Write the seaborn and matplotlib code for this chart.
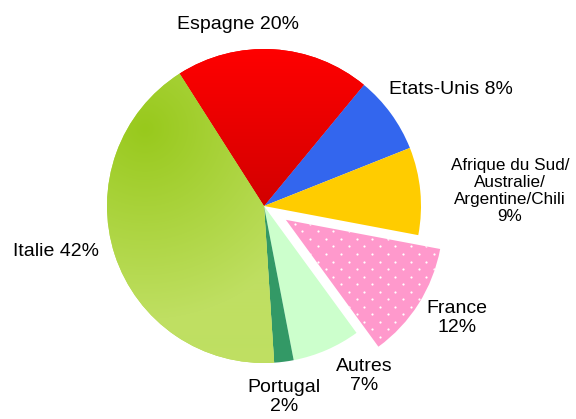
import seaborn as sns
import matplotlib.pyplot as plt
import numpy as np
from matplotlib.colors import to_rgb

# Répartition des surfaces (pie chart with France exploded)

countries = ["Espagne", "Etats-Unis", "Afrique du Sud/\nAustralie/\nArgentine/Chili",
             "France", "Autres", "Portugal", "Italie"]
shares = [20, 8, 9, 12, 7, 2, 42]
colors = ["#f20000", "#3366ee", "#ffcc00", "#ff99cc", "#ccffcc", "#339966", "#b5d94e"]
explode_frac = [0, 0, 0, 0.165, 0, 0, 0]

sns.set_theme(style="white")
plt.rcParams["font.family"] = ["Liberation Sans", "DejaVu Sans"]

W, H = 576, 419
cx, cy, r = 264, 213, 157

fig = plt.figure(figsize=(W / 100, H / 100), dpi=100)
ax = fig.add_axes([0, 0, 1, 1])

wedges, _ = ax.pie(
    shares,
    colors=colors,
    explode=[e * r for e in explode_frac],
    startangle=122.5,
    counterclock=False,
    center=(cx, cy),
    radius=r,
    frame=True,
    wedgeprops=dict(linewidth=0),
)
ax.set_xlim(0, W)
ax.set_ylim(0, H)
ax.axis("off")

# shading for Espagne and Italie
xx, yy = np.meshgrid(np.arange(W) + 0.5, np.arange(H) + 0.5)


def gradient(t, c0, c1):
    t = np.clip(t, 0, 1)[..., None]
    return (1 - t) * np.array(to_rgb(c0)) + t * np.array(to_rgb(c1))


esp = gradient((cy + r - yy) / r, "#ff0000", "#d20000")
ita = gradient(np.hypot(xx - 145, yy - 290) / 190, "#98c91c", "#bfdf62")
for name, img in (("Espagne", esp), ("Italie", ita)):
    w = wedges[countries.index(name)]
    im = ax.imshow(img, origin="lower", extent=(0, W, 0, H), zorder=w.get_zorder() + 0.1,
                   interpolation="bilinear")
    im.set_clip_path(w)
ax.set_xlim(0, W)
ax.set_ylim(0, H)

# dotted texture on France
france = wedges[countries.index("France")]
gx, gy = np.meshgrid(np.arange(0, W, 15.5), np.arange(0, H, 7.5))
gx = gx + (np.arange(gy.shape[0])[:, None] % 2) * 7.75
dots = ax.scatter(gx.ravel(), gy.ravel(), s=2.5, color="white", linewidths=0, zorder=3)
dots.set_clip_path(france)

labels = [f"{c} {s}%" if c in ("Espagne", "Etats-Unis", "Italie") else f"{c}\n{s}%"
          for c, s in zip(countries, shares)]
label_pos = [(238, 394), (451, 329), (510, 228), (457, 101), (364, 43), (284, 22), (56, 167)]
for lab, (x, y), c in zip(labels, label_pos, countries):
    size = 12.3 if c.startswith("Afrique") else 14
    ax.text(x, y, lab, ha="center", va="center", fontsize=size,
            linespacing=1.15, color="black", zorder=5)

fig.savefig("out.png", dpi=100)
